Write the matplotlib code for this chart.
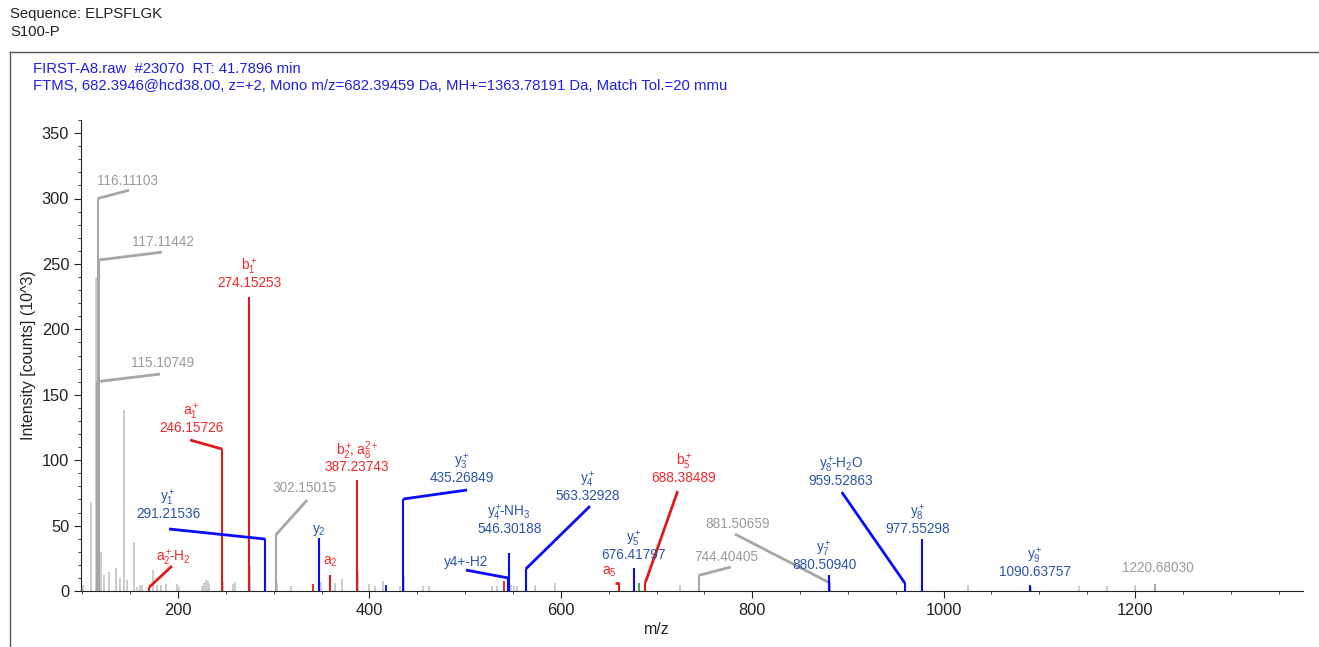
import numpy as np
import matplotlib.pyplot as plt
from matplotlib.lines import Line2D
from matplotlib.ticker import MultipleLocator

plt.rcParams['font.family'] = ['Liberation Sans', 'DejaVu Sans']
plt.rcParams['mathtext.fontset'] = 'custom'
plt.rcParams['mathtext.rm'] = 'Liberation Sans'
plt.rcParams['mathtext.it'] = 'Liberation Sans'

# unassigned peaks (m/z, intensity in 10^3 counts)
noise_mz = [100.7, 109.0, 114.1, 119.5, 123.0, 128.0, 135.2, 139.4, 143.9, 146.4,
            154.3, 157.5, 160.0, 162.4, 174.2, 178.0, 182.6, 187.8, 199.0, 201.0,
            225.0, 226.8, 229.3, 231.0, 232.8, 246.8, 257.8, 259.5, 275.0, 303.0,
            317.8, 349.0, 364.4, 371.7, 387.8, 399.9, 405.9, 414.5, 432.0, 436.0,
            456.0, 462.0, 527.8, 533.0, 547.5, 551.0, 554.5, 573.0, 594.0, 724.6,
            1025.8, 1091.5, 1141.5, 1170.4, 1200.0]
noise_int = [4.6, 68, 239, 30, 12, 14.5, 17.6, 10, 138, 8.4,
             37.7, 3.3, 4.6, 4.6, 16, 4.6, 4.6, 5.3, 5, 3,
             4, 6, 8.4, 7.6, 5.3, 7, 5.3, 7, 19, 6,
             4, 7, 6, 9, 15, 5, 4, 8, 4, 11.5,
             4, 4, 4, 4, 4.6, 4, 4, 4.6, 6, 4.6,
             4.6, 3, 4, 4, 4.6]

# small matched peaks without labels
small_red_mz = [340.8, 541.0]
small_red_int = [5, 7.6]
small_blue_mz = [417.0]
small_blue_int = [4.6]
small_green_mz = [681.7]
small_green_int = [6]

# labelled peaks
ann_mz = [116.11103, 117.11442, 115.10749, 246.15726, 274.15253, 291.21536,
          302.15015, 347.6, 358.8, 170.0, 387.23743, 435.26849, 546.30188,
          544.8, 563.32928, 676.41797, 661.0, 688.38489, 744.40405, 881.50659,
          880.50940, 959.52863, 977.55298, 1090.63757, 1220.68030]
ann_int = [300, 253, 160, 108.5, 224.6, 39.7, 42.8, 40.5, 12, 3, 84.8, 70.3, 29,
           10, 16.8, 17.8, 6, 6.6, 12, 6, 12, 6, 39.7, 4.6, 5.3]
ann_kind = ['gray', 'gray', 'gray', 'red', 'red', 'blue', 'gray', 'blue', 'red',
            'red', 'red', 'blue', 'blue', 'blue', 'blue', 'blue', 'red', 'red',
            'gray', 'gray', 'blue', 'blue', 'blue', 'blue', 'gray']
ann_name = [None, None, None, r'$\mathregular{a_1^+}$', r'$\mathregular{b_1^+}$',
            r'$\mathregular{y_1^+}$', None, r'$\mathregular{y_2}$',
            r'$\mathregular{a_2}$', r'$\mathregular{a_2^+\!\!\text{-}H_2}$',
            r'$\mathregular{b_2^+\!\!\text{, }a_8^{2+}}$',
            r'$\mathregular{y_3^+}$', r'$\mathregular{y_4^+\!\!\text{-}NH_3}$',
            'y4+-H2', r'$\mathregular{y_4^+}$', r'$\mathregular{y_5^+}$',
            r'$\mathregular{a_5}$', r'$\mathregular{b_5^+}$', None, None,
            r'$\mathregular{y_7^+}$', r'$\mathregular{y_8^+\!\!\text{-}H_2O}$',
            r'$\mathregular{y_8^+}$', r'$\mathregular{y_9^+}$', None]
ann_show_mz = [True, True, True, True, True, True, True, False, False, False,
               True, True, True, False, True, True, False, True, True, True,
               True, True, True, True, True]

# layout: label centre (m/z, intensity) and leader end (None = no leader)
label_pos = [(146.7, 313.2), (184.3, 266.6), (184.3, 174.2), (213.6, 124.5),
             (274.15, 235.3), (189.6, 58.8), (332.7, 78.7), (347.6, 46.6),
             (358.8, 22.2), (194.5, 25.2), (387.24, 94.7), (496.8, 86.3),
             (546.0, 47.4), (500.9, 22.2), (628.4, 72.6), (676.2, 27.5),
             (650.4, 14.5), (728.7, 86.3), (773.3, 26.0), (784.8, 51.2),
             (875.0, 19.9), (892.8, 84.0), (973.2, 47.4), (1095.5, 14.5),
             (1223.7, 17.6)]
leader_end = [(148.8, 306.3), (183.3, 259.0), (181.2, 165.8), (212.5, 115.4),
              None, (190.6, 47.4), (334.8, 69.5), None, None, (193.7, 19.1),
              None, (502.0, 77.2), None, (500.9, 16.0), (630.5, 64.9), None,
              (656.5, 6.0), (722.1, 76.4), (777.5, 18.3), (782.0, 43.5), None,
              (893.5, 75.6), None, None, None]

line_col = {'gray': '#a6a6a6', 'red': '#dd1c1c', 'blue': '#0a0aff'}
text_col = {'gray': '#9a9a9a', 'red': '#f0282a', 'blue': '#2a55a8'}

fig = plt.figure(figsize=(13.19, 6.47), dpi=100)
ax = fig.add_axes([81 / 1319, 1 - 591 / 647, 1222 / 1319, 471 / 647])

ax.vlines(noise_mz, 0, noise_int, color='#c8c8c8', lw=1.3)
ax.vlines(small_red_mz, 0, small_red_int, color=line_col['red'], lw=1.3)
ax.vlines(small_blue_mz, 0, small_blue_int, color=line_col['blue'], lw=1.3)
ax.vlines(small_green_mz, 0, small_green_int, color='#22aa22', lw=1.3)

fs = 9.8
for i in range(len(ann_mz)):
    k = ann_kind[i]
    ax.vlines(ann_mz[i], 0, ann_int[i], color=line_col[k], lw=1.5)
    if leader_end[i] is not None:
        ax.plot([ann_mz[i], leader_end[i][0]], [ann_int[i], leader_end[i][1]],
                color=line_col[k], lw=2.0, solid_capstyle='butt')
    lx, ly = label_pos[i]
    tc = text_col[k]
    if ann_show_mz[i]:
        ax.text(lx, ly, '%.5f' % ann_mz[i], color=tc, fontsize=fs,
                ha='center', va='center')
        if ann_name[i] is not None:
            ax.annotate(ann_name[i], (lx, ly), xytext=(0, 11.5),
                        textcoords='offset points', color=tc, fontsize=fs,
                        ha='center', va='center')
    else:
        ax.text(lx, ly, ann_name[i], color=tc, fontsize=fs,
                ha='center', va='center')

ax.set_xlim(98.6, 1375.5)
ax.set_ylim(0, 360)
ax.spines['top'].set_visible(False)
ax.spines['right'].set_visible(False)
ax.spines['left'].set_color('#222222')
ax.spines['bottom'].set_color('#222222')
ax.xaxis.set_major_locator(MultipleLocator(200))
ax.xaxis.set_minor_locator(MultipleLocator(50))
ax.yaxis.set_major_locator(MultipleLocator(50))
ax.yaxis.set_minor_locator(MultipleLocator(10))
ax.tick_params(which='major', length=5, color='#222222', labelsize=11.8,
               labelcolor='#222222')
ax.tick_params(which='minor', length=2.5, color='#222222')
ax.set_xlabel('m/z', fontsize=11.5, color='#222222')
ax.xaxis.set_label_coords(0.471, -0.065)
ax.set_ylabel('Intensity [counts] (10^3)', fontsize=11.5, color='#222222')
ax.yaxis.set_label_coords(-0.037, 0.5)

fig.text(10 / 1319, 1 - 14 / 647, 'Sequence: ELPSFLGK', fontsize=10.7,
         color='#222222', va='center')
fig.text(10 / 1319, 1 - 32 / 647, 'S100-P', fontsize=10.7,
         color='#222222', va='center')
fig.text(33 / 1319, 1 - 69 / 647, 'FIRST-A8.raw  #23070  RT: 41.7896 min',
         fontsize=10.7, color='#1f1fe6', va='center')
fig.text(33 / 1319, 1 - 86 / 647,
         'FTMS, 682.3946@hcd38.00, z=+2, Mono m/z=682.39459 Da, '
         'MH+=1363.78191 Da, Match Tol.=20 mmu',
         fontsize=10.7, color='#1f1fe6', va='center')

fig.add_artist(Line2D([10 / 1319, 1.0], [1 - 52 / 647] * 2, color='#555555',
                      lw=1.0, transform=fig.transFigure))
fig.add_artist(Line2D([10 / 1319] * 2, [0.0, 1 - 52 / 647], color='#555555',
                      lw=1.0, transform=fig.transFigure))

fig.savefig('out.png', dpi=100)
